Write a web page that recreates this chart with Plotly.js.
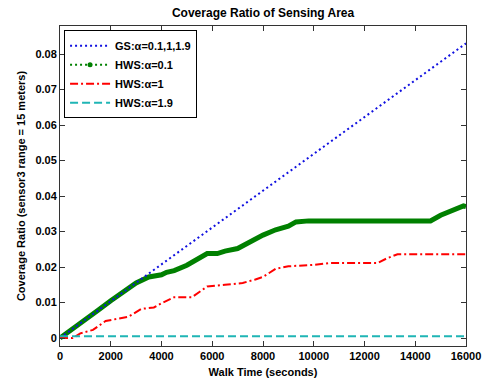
<!DOCTYPE html>
<html><head><meta charset="utf-8">
<script src="https://cdn.plot.ly/plotly-3.0.1.min.js"></script>
<style>html,body{margin:0;padding:0;background:#fff}#chart{width:489px;height:382px}</style>
</head><body><div id="chart"></div>
<script>
const seriesNames = ["GS:α=0.1,1,1.9", "HWS:α=0.1", "HWS:α=1", "HWS:α=1.9"];
const gsX = [0, 16000];
const gsY = [0, 0.083];
const hws01X = [0,500,1000,1500,2000,2500,3000,3500,4000,4200,4500,5000,5500,5800,6200,6500,7000,7500,8000,8500,9000,9300,9800,10500,14600,15000,15400,15900,16000];
const hws01Y = [0,0.0025,0.005,0.0078,0.0105,0.013,0.0155,0.0172,0.0178,0.0185,0.019,0.0205,0.0228,0.0238,0.0238,0.0245,0.0252,0.0272,0.029,0.0305,0.0315,0.0327,0.033,0.033,0.033,0.0346,0.0358,0.0372,0.037];
const hws1X = [0,500,800,1300,1800,2200,2700,3200,3700,4000,4500,5200,5500,5800,6500,7200,7700,8000,8500,9000,10000,10600,12500,12900,13300,16000];
const hws1Y = [0,0,0.0013,0.0023,0.0048,0.0053,0.006,0.0082,0.0086,0.0098,0.0115,0.0115,0.013,0.0145,0.015,0.0155,0.0165,0.0172,0.0195,0.0202,0.0206,0.0211,0.0211,0.0225,0.0236,0.0236];
const hws19X = [0, 16000];
const hws19Y = [0.0005, 0.0005];
const xTicks = [0,2000,4000,6000,8000,10000,12000,14000,16000];
const yTicks = [0,0.01,0.02,0.03,0.04,0.05,0.06,0.07,0.08];

const F = {family: "Arial, 'Liberation Sans', sans-serif", size: 11, color: "#000", weight: "bold"};
const traces = [
  {x: hws01X, y: hws01Y, mode: "lines", line: {color: "#008000", width: 5}, showlegend: false, hoverinfo: "skip"},
  {x: gsX, y: gsY, mode: "lines", name: seriesNames[0], line: {color: "#1010e0", width: 2, dash: "2px,3px"}},
  {x: [null], y: [null], mode: "lines+markers", name: seriesNames[1], line: {color: "#008000", width: 2, dash: "2px,3px"}, marker: {color: "#008000", size: 5}},
  {x: hws1X, y: hws1Y, mode: "lines", name: seriesNames[2], line: {color: "#ff0000", width: 2, dash: "8px,3px,2px,3px"}},
  {x: hws19X, y: hws19Y, mode: "lines", name: seriesNames[3], line: {color: "#1fb5b5", width: 2, dash: "8px,4px"}}
];
const layout = {
  width: 489, height: 382,
  margin: {l: 60, r: 23, t: 26, b: 36},
  paper_bgcolor: "#fff", plot_bgcolor: "#fff",
  font: F,
  title: {text: "Coverage Ratio of Sensing Area", font: {family: F.family, size: 12, color: "#000", weight: "bold"}, x: 0.538, xanchor: "center", y: 0.967, yref: "container", yanchor: "middle"},
  xaxis: {range: [0, 16000], tickvals: xTicks, ticktext: xTicks.map(String), ticks: "inside", ticklen: 5, tickcolor: "#333", showline: true, linecolor: "#333", linewidth: 1, mirror: "ticks", showgrid: false, zeroline: false, tickfont: F,
    title: {text: "Walk Time (seconds)", font: F, standoff: 7}},
  yaxis: {range: [-0.00225, 0.0879], tickvals: yTicks, ticktext: yTicks.map(v => String(v)), ticks: "inside", ticklen: 5, tickcolor: "#333", showline: true, linecolor: "#333", linewidth: 1, mirror: "ticks", showgrid: false, zeroline: false, tickfont: F,
    title: {text: "Coverage Ratio (sensor3 range = 15 meters)", font: F, standoff: 7}},
  legend: {x: 0.01, y: 0.987, xanchor: "left", yanchor: "top", bgcolor: "#fff", bordercolor: "#000", borderwidth: 1, font: F, itemwidth: 40, tracegroupgap: 0},
  showlegend: true
};
Plotly.newPlot("chart", traces, layout, {displayModeBar: false, staticPlot: true});
</script></body></html>
